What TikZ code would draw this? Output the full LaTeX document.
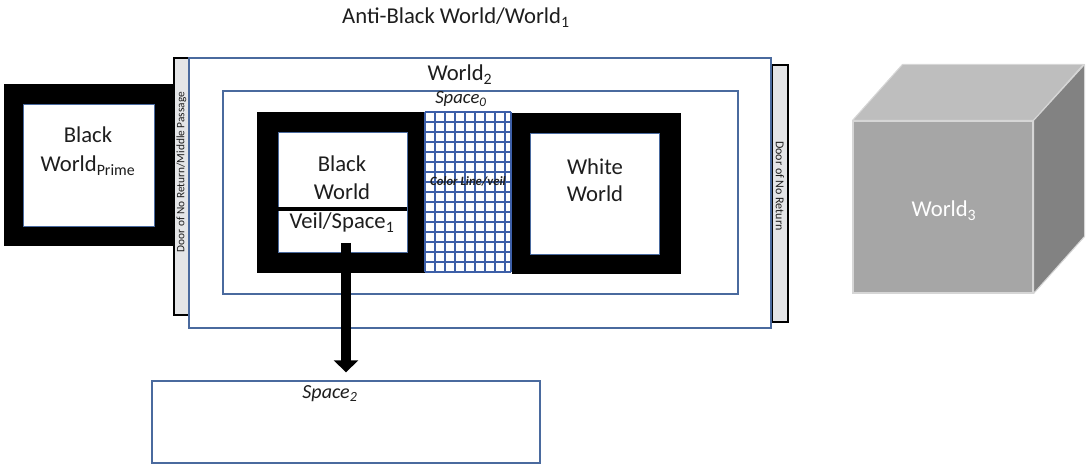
\documentclass[tikz,border=0pt]{standalone}
\usepackage{fontspec}
\setmainfont{Carlito}
\usetikzlibrary{arrows.meta,fit}
\definecolor{edgeblue}{HTML}{4A6A9E}
\definecolor{gridblue}{HTML}{3D5FA8}
\definecolor{ink}{HTML}{1E1E1E}
\definecolor{doorfill}{HTML}{E4E5E7}
\definecolor{cubefront}{HTML}{A6A6A6}
\definecolor{cubetop}{HTML}{BEBEBE}
\definecolor{cubeside}{HTML}{828282}
\definecolor{cubeedge}{HTML}{D6D6D6}

\begin{document}
\begin{tikzpicture}[x=0.75pt,y=-0.75pt,
  txt/.style={text=ink, inner sep=0pt, anchor=base, font=\fontsize{17}{20}\selectfont},
  itxt/.style={text=ink, inner sep=0pt, anchor=base, font=\fontsize{15}{18}\selectfont\itshape},
  thinbox/.style={draw=edgeblue, line width=0.8pt, fill=white, inner sep=0pt},
  frame/.style={fill=black, draw=black, line width=0.5pt, inner sep=0pt},
  pane/.style={fill=white, draw=edgeblue, line width=0.6pt, inner sep=0pt},
  door/.style={fill=doorfill, draw=black, line width=1pt, inner sep=0pt},
  doortxt/.style={text=ink, inner sep=0pt, font=\fontsize{8.5}{9}\selectfont},
  gridline/.style={draw=gridblue, line width=1pt},
  cubeface/.style={draw=cubeedge, line width=0.8pt, line join=round},
]
\useasboundingbox (0,0) rectangle (1089,466);

% title
\node[txt] (title) at (456,24) {Anti-Black World/World\textsubscript{1}};

% Black World Prime
\node[frame, fit={(4,84) (175,245)}] (prime) {};
\node[pane, fit={(23,104) (154,226)}] (primein) {};
\node[txt] (primeA) at (88,143) {Black};
\node[txt] (primeB) at (88,172) {World\textsubscript{Prime}};

% doors
\node[door, fit={(174,58) (189,315)}] (doorL) {};
\node[doortxt, rotate=90] (doorLtxt) at (181.5,172) {Door of No Return/Middle Passage};
\node[door, fit={(772,65) (788,322)}] (doorR) {};
\node[doortxt, rotate=-90, font=\fontsize{9}{10}\selectfont] (doorRtxt) at (780,186) {Door of No Return};

% World 2 and Space 0
\node[thinbox, fit={(189,58) (771,328)}] (world2) {};
\node[txt] (world2lbl) at (460,81) {World\textsubscript{2}};
\node[thinbox, line width=1pt, fit={(223,91) (738,294)}] (space0) {};
\node[itxt, font=\fontsize{14}{16}\selectfont\itshape] (space0lbl) at (461,104) {Space\textsubscript{0}};

% Black World
\node[frame, fit={(257,112) (425,272)}] (bw) {};
\node[pane, fit={(278,132) (407,252)}] (bwin) {};
\draw[line width=3pt] (bwin.west |- 0,209) -- (bwin.east |- 0,209);
\node[txt] (bwA) at (342,172) {Black};
\node[txt] (bwB) at (342,200) {World};
\node[txt] (veil1) at (342,229) {Veil/Space\textsubscript{1}};

% colour line / veil grid
\node[fill=white, inner sep=0pt, fit={(425,112) (511,272)}] (cline) {};
\foreach \i in {0,...,8}
  \draw[gridline] ({425+\i*10},112) -- ({425+\i*10},272);
\draw[gridline] (511,112) -- (511,272);
\foreach \j in {0,...,16}
  \draw[gridline] (425,{112+\j*10}) -- (511,{112+\j*10});
\node[text=ink, inner sep=0pt, font=\fontsize{9.5}{10}\selectfont\bfseries\itshape] (clinelbl) at (468,181) {Color Line/veil};

% White World
\node[frame, fit={(512,113) (680,273)}] (ww) {};
\node[pane, fit={(530,133) (659,254)}] (wwin) {};
\node[txt] (wwA) at (595,175) {White};
\node[txt] (wwB) at (595,202) {World};

% Space 2 and the arrow down to it
\node[thinbox, line width=1pt, fit={(152,381) (540,463)}] (space2) {};
\node[itxt] (space2lbl) at (330,399) {Space\textsubscript{2}};
\coordinate (veilexit) at (346,243);
\draw[line width=7pt, -{Triangle[width=18pt,length=9pt]}, shorten >=6pt]
  (veilexit) -- (veilexit |- space2.north);

% World 3 cube
\node[fill=cubefront, draw=cubeedge, line width=0.8pt, inner sep=0pt, fit={(853,121) (1033,293)}] (cube) {};
\filldraw[cubeface, fill=cubetop] (cube.north west) -- ++(50,-56) -- ++(181,0) -- (cube.north east) -- cycle;
\filldraw[cubeface, fill=cubeside] (cube.north east) -- ++(51,-56) -- ++(0,172) -- (cube.south east) -- cycle;
\node[txt, text=white] (world3) at (944,217) {World\textsubscript{3}};
\end{tikzpicture}
\end{document}
